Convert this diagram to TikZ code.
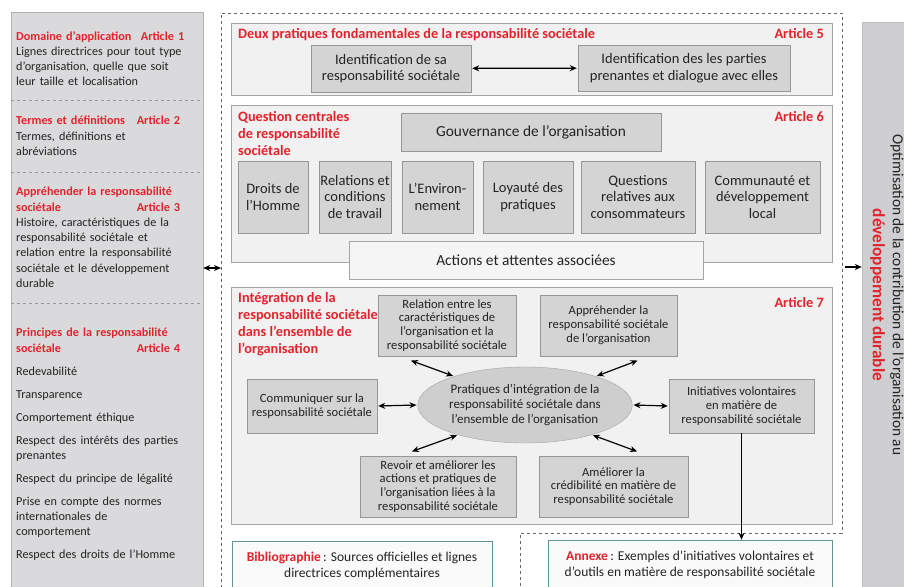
\documentclass[tikz,border=0pt]{standalone}
\usepackage{fontspec}
\setmainfont{Carlito}
\usepackage{xcolor}
\usetikzlibrary{arrows,arrows.meta,shapes,positioning,calc}

\definecolor{isored}{RGB}{226,35,45}
\definecolor{panelfill}{RGB}{241,241,241}
\definecolor{paneldraw}{RGB}{165,165,165}
\definecolor{boxfill}{RGB}{212,212,212}
\definecolor{boxdraw}{RGB}{150,150,150}
\definecolor{colfill}{RGB}{218,218,220}
\definecolor{textgray}{RGB}{35,35,35}
\definecolor{tealdraw}{RGB}{95,150,150}

\newcommand\arttitle[1]{\textcolor{isored}{\bfseries #1}}

\begin{document}
\begin{tikzpicture}[x=1pt,y=-1pt,>={Stealth[length=7pt,width=6pt]},
    panel/.style={draw=paneldraw,fill=panelfill,inner sep=0pt},
    graybox/.style={draw=boxdraw,fill=boxfill,align=center,inner sep=1pt,text=textgray},
    lightbox/.style={draw=paneldraw,fill=panelfill!70!white,align=center,inner sep=1pt,text=textgray},
    notebox/.style={draw=tealdraw,fill=white!96!gray,align=center,inner sep=1pt,text=textgray},
    bodytext/.style={font=\fontsize{12.2}{15.3}\selectfont,text=textgray,inner sep=0pt,align=left},
    paneltitle/.style={font=\fontsize{14.3}{17}\selectfont\bfseries,text=isored,inner sep=0pt,align=left},
    bigtext/.style={font=\fontsize{14.5}{16.5}\selectfont},
    hugetext/.style={font=\fontsize{15.4}{17}\selectfont},
    smalltext/.style={font=\fontsize{12.6}{13.8}\selectfont},
    notetext/.style={font=\fontsize{13.5}{16.5}\selectfont},
    biarrow/.style={<->,line width=1.2pt,shorten <=1pt,shorten >=1pt},
    sepline/.style={dashed,draw=gray!80},
    frameline/.style={dashed,draw=black!60,line width=0.8pt}]

    \clip (0,0) rectangle (904,586);
    \fill[white] (0,0) rectangle (904,586);

    % Left column: articles 1 to 4
    \node[draw=gray!60,fill=colfill,minimum width=192,minimum height=600,inner sep=0pt] (leftcol) at (107,312) {};
    \draw[sepline] (11,100) -- (203,100);
    \draw[sepline] (11,172) -- (203,172);
    \draw[sepline] (11,303) -- (203,303);
    \node[bodytext,text width=168,anchor=north west] (sec1) at (16,31)
        {\arttitle{Domaine d’application\hfill Article 1}\\
         Lignes directrices pour tout type\\ d’organisation, quelle que soit\\ leur taille et localisation};
    \node[bodytext,text width=164,anchor=north west] (sec2) at (16,116)
        {\arttitle{Termes et définitions\hfill Article 2}\\
         Termes,  définitions et\\ abréviations};
    \node[bodytext,text width=164,anchor=north west] (sec3) at (16,187)
        {\arttitle{Appréhender la responsabilité}\\ \arttitle{sociétale\hfill Article 3}\\
         Histoire, caractéristiques de la\\ responsabilité sociétale et\\ relation entre  la responsabilité\\
         sociétale et le développement\\ durable};
    \node[bodytext,text width=164,anchor=north west] (sec4) at (16,328)
        {\arttitle{Principes de la responsabilité}\\ \arttitle{sociétale\hfill Article 4}\\[7.7pt]
         Redevabilité\\[7.7pt] Transparence\\[7.7pt] Comportement  éthique\\[7.7pt]
         Respect des intérêts des parties\\ prenantes\\[7.7pt] Respect du principe de légalité\\[7.7pt]
         Prise en compte des normes\\ internationales de\\ comportement\\[7.7pt]
         Respect des droits de l’Homme};

    % Right column
    \node[draw=gray!50,fill=colfill!95!black,minimum width=52,minimum height=590,inner sep=0pt] (rightcol) at (888,317) {};
    \node[rotate=-90,align=center,font=\fontsize{15.4}{20}\selectfont,text=textgray] (optim) at (887,295)
        {Optimisation de la contribution de l’organisation au\\
         {\fontsize{17.3}{20}\selectfont\bfseries\color{isored}développement durable}};

    % Dashed frame round articles 5 to 7
    \draw[frameline] (221,600) -- (221,13) -- (842,13) -- (842,533) -- (520,533) -- (520,600);
    \coordinate (fl) at (221,268);
    \coordinate (fr) at (845,267);
    \draw[<->,line width=1.2pt] (leftcol.east |- fl) -- (fl);
    \draw[->,line width=1.2pt] (fr) -- (fr -| rightcol.west);

    % Article 5
    \node[panel,minimum width=601,minimum height=72] (art5) at (531.5,59) {};
    \node[paneltitle,anchor=north west] (t5) at (238,28) {Deux pratiques fondamentales de la responsabilité sociétale};
    \node[paneltitle,anchor=north east] (a5) at (824,28) {Article 5};
    \node[graybox,bigtext,minimum width=160,minimum height=47] (idsa) at (391,68.5)
        {Identification de sa\\ responsabilité sociétale};
    \node[graybox,bigtext,minimum width=212,minimum height=46] (idpp) at (684,68)
        {Identification des  les parties\\ prenantes et dialogue avec elles};
    \draw[biarrow] (idsa) -- (idpp);

    % Article 6
    \node[panel,minimum width=601,minimum height=157] (art6) at (531.5,183.5) {};
    \node[paneltitle,anchor=north west] (t6) at (238,111) {Question centrales\\ de responsabilité\\ sociétale};
    \node[paneltitle,anchor=north east] (a6) at (824,111) {Article 6};
    \node[graybox,hugetext,minimum width=260,minimum height=38] (gouv) at (531,132) {Gouvernance de l’organisation};
    \foreach \cx/\bw/\nm/\lbl in {273/70/droits/{Droits de\\ l’Homme},
            355/72/travail/{Relations et\\ conditions\\ de travail},
            437.5/71/environ/{L’Environ-\\ nement},
            528/90/loyaute/{Loyauté des\\ pratiques},
            638/114/conso/{Questions\\ relatives aux\\ consommateurs},
            762.5/115/commun/{Communauté et\\ développement\\ local}}
        \node[graybox,bigtext,minimum width=\bw,minimum height=72,inner sep=0pt] (\nm) at (\cx,197) {\lbl};
    \node[lightbox,hugetext,minimum width=354,minimum height=38] (actions) at (526,260) {Actions et attentes associées};

    % Article 7
    \node[panel,minimum width=601,minimum height=237] (art7) at (531.5,405.5) {};
    \node[paneltitle,anchor=north west] (t7) at (238,292)
        {Intégration de la\\ responsabilité sociétale\\ dans l’ensemble de\\ l’organisation};
    \node[paneltitle,anchor=north east] (a7) at (824,297) {Article 7};
    \node[graybox,smalltext,minimum width=138,minimum height=61] (relation) at (447,325.5)
        {Relation entre les\\ caractéristiques de\\ l’organisation et la\\ responsabilité sociétale};
    \node[graybox,smalltext,minimum width=137,minimum height=61] (apprend) at (608.5,325.5)
        {Appréhender  la\\ responsabilité sociétale\\ de l’organisation};
    \node[graybox,smalltext,minimum width=130,minimum height=54] (commun7) at (312,406)
        {Communiquer sur la\\ responsabilité sociétale};
    \node[ellipse,draw=paneldraw,fill=boxfill!97!black,minimum width=200,minimum height=76,inner sep=0pt,
          align=center,text=textgray,font=\fontsize{13}{15}\selectfont] (prat) at (525,405)
        {Pratiques d’intégration de la\\ responsabilité sociétale dans\\ l’ensemble de l’organisation};
    \node[graybox,smalltext,minimum width=145,minimum height=54] (initia) at (741.5,406)
        {Initiatives volontaires\\ en matière de\\ responsabilité sociétale};
    \node[graybox,smalltext,minimum width=156,minimum height=61] (revoir) at (438,486.5)
        {Revoir et  améliorer  les\\ actions et pratiques de\\ l’organisation liées à la\\ responsabilité sociétale};
    \node[graybox,smalltext,minimum width=149,minimum height=61] (credib) at (613.5,486.5)
        {Améliorer la\\ crédibilité en matière de\\ responsabilité sociétale};
    \draw[biarrow] ($(relation.south)+(-37,4)$) -- (prat.158);
    \draw[biarrow] ($(apprend.south)+(30,4)$) -- (prat.22);
    \draw[biarrow] (commun7.east) -- (prat.west);
    \draw[biarrow] (prat.east) -- (initia.west);
    \draw[biarrow] ($(revoir.north)+(-27,-4)$) -- (prat.204);
    \draw[biarrow] ($(credib.north)+(24.5,-4)$) -- (prat.336);

    % Bibliographie and annexe
    \node[notebox,notetext,minimum width=260,minimum height=50] (biblio) at (362,566)
        {\arttitle{Bibliographie}\,: Sources officielles  et lignes\\ directrices complémentaires};
    \node[notebox,notetext,minimum width=284,minimum height=50] (annexe) at (690,565)
        {\arttitle{Annexe}\,: Exemples d’initiatives  volontaires et\\ d’outils en matière de responsabilité sociétale};
    \draw[->,line width=1.2pt] (initia.south) -- (initia.south |- annexe.north);

\end{tikzpicture}
\end{document}
